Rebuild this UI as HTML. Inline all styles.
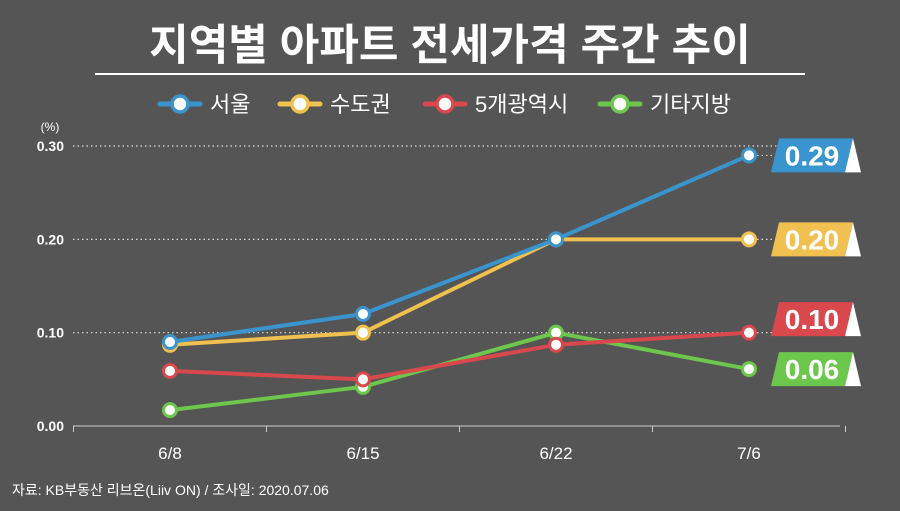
<!DOCTYPE html>
<html><head><meta charset="utf-8"><style>
body{margin:0;background:#555;}
svg text{font-family:"Liberation Sans","Noto Sans CJK KR",sans-serif;}
</style></head><body>
<svg width="900" height="506" viewBox="0 0 900 506">
<rect width="900" height="506" fill="#555"/>
<text x="450" y="60" text-anchor="middle" fill="#fff" font-size="43" font-weight="bold">지역별 아파트 전세가격 주간 추이</text>
<line x1="95" y1="74" x2="805" y2="74" stroke="#fff" stroke-width="2"/>
<g id="legend"></g>
<text x="50" y="131" text-anchor="middle" fill="#fff" font-size="12">(%)</text>
<g id="grid"></g><g id="series"></g><g id="labels"></g>
<text x="12" y="495" fill="#fff" font-size="14">자료: KB부동산 리브온(Liiv ON)  / 조사일: 2020.07.06</text>
</svg>
<script>
const categories=["6/8","6/15","6/22","7/6"];
const seriesNames=["서울","수도권","5개광역시","기타지방"];
const seoul=[0.09,0.12,0.20,0.29];
const capital=[0.087,0.10,0.20,0.20];
const metro=[0.059,0.05,0.087,0.10];
const others=[0.017,0.042,0.10,0.061];
const endLabels=["0.29","0.20","0.10","0.06"];
const yTicks=[0,0.1,0.2,0.3];
const yTickLabels=["0.00","0.10","0.20","0.30"];
const colors=["#3a95cf","#f0c050","#d9484c","#6cc74c"];
const NS="http://www.w3.org/2000/svg";
const xs=i=>170+i*193;
const ys=v=>426-v*933.3;
function mk(tag,attrs,parent,txt){const e=document.createElementNS(NS,tag);for(const k in attrs)e.setAttribute(k,attrs[k]);if(txt!=null)e.textContent=txt;document.getElementById(parent).appendChild(e);return e;}
yTicks.forEach((t,i)=>{
 if(t>0){const g=mk('line',{x1:73,x2:840,y1:ys(t),y2:ys(t),stroke:'#ddd','stroke-width':1.2,'stroke-dasharray':'1.5 3'},'grid');
 
 }
 const l=mk('text',{x:64,y:ys(t)+5,'text-anchor':'end',fill:'#fff','font-size':14,'font-weight':'bold'},'grid',yTickLabels[i]);
 
 
});
const ax=mk('line',{x1:73,x2:840,y1:426,y2:426,stroke:'#ccc','stroke-width':1},'grid');


for(let i=0;i<=categories.length;i++){const tx=xs(i)-96.5;const tk=mk('line',{x1:tx,x2:tx,y1:426,y2:432,stroke:'#ccc'},'grid');
 
 }
categories.forEach((c,i)=>{const t=mk('text',{x:xs(i),y:459,'text-anchor':'middle',fill:'#fff','font-size':17},'grid',c);
 
 });
const all=[seoul,capital,metro,others];
[3,2,1,0].forEach(s=>{
 const d=all[s].map((v,i)=>(i?'L':'M')+xs(i)+' '+ys(v)).join(' ');
 const p=mk('path',{d:d,fill:'none',stroke:colors[s],'stroke-width':4,'stroke-linejoin':'round'},'series');
 
 
 all[s].forEach((v,i)=>{const c=mk('circle',{cx:xs(i),cy:ys(v),r:6.5,fill:'#fff',stroke:colors[s],'stroke-width':3},'series');
  
  });
});
const labelY=[ys(seoul[3]),ys(capital[3]),ys(metro[3]),ys(others[3])];
labelY[2]=Math.min(labelY[2],labelY[3]-50);
labelY.forEach((y,s)=>{
 const t=y-17,b=y+17;
 if(s<3){const dl=mk('line',{x1:757,x2:775,y1:ys(all[s][3]),y2:ys(all[s][3]),stroke:'#ddd','stroke-dasharray':'1.5 3'},'labels');
  
  }
 const box=mk('polygon',{points:`${779},${t} ${853},${t} ${845},${b} ${771},${b}`,fill:colors[s]},'labels');
 
 
 const tri=mk('polygon',{points:`${853},${t} ${861},${b} ${845},${b}`,fill:'#fff'},'labels');
 
 
 const tx=mk('text',{x:812,y:y+10,'text-anchor':'middle',fill:'#fff','font-size':28,'font-weight':'bold'},'labels',endLabels[s]);
 
 
});
const lx=[165,285,430,605];
seriesNames.forEach((n,s)=>{
 const ln=mk('line',{x1:lx[s]-5,x2:lx[s]+35,y1:104,y2:104,stroke:colors[s],'stroke-width':5,'stroke-linecap':'round'},'legend');
 
 
 const c=mk('circle',{cx:lx[s]+15,cy:104,r:8,fill:'#fff',stroke:colors[s],'stroke-width':3.5},'legend');
 
 
 const t=mk('text',{x:lx[s]+45,y:112,fill:'#fff','font-size':22},'legend',n);
 
 
});
</script>
</body></html>
